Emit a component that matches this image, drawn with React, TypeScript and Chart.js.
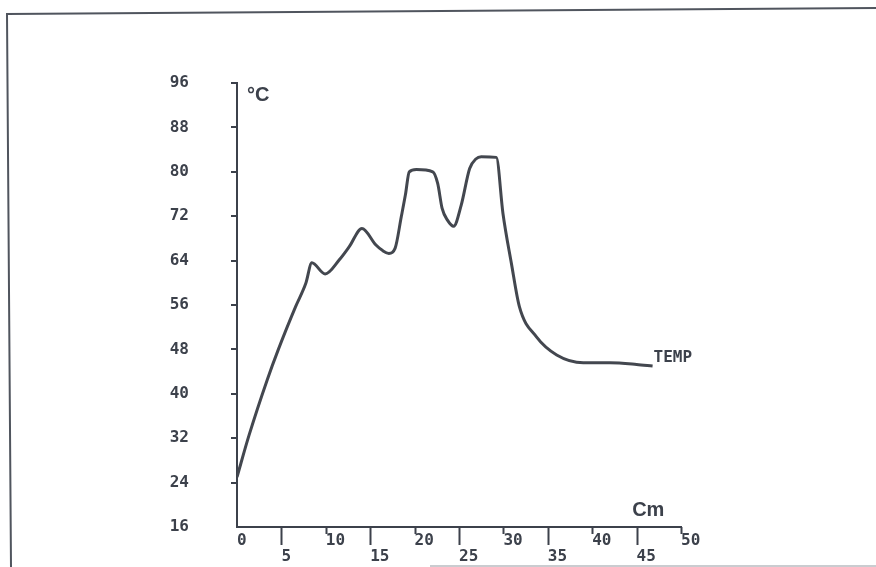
import React, { useEffect, useRef } from "react";
import { Chart, registerables } from "chart.js";

Chart.register(...registerables);

// Position along the furnace (cm)
const positionsCm = [
  0, 1.35, 3.4, 4.66, 6.6, 7.75, 8.43, 9.93, 11.5, 12.64, 14.07, 15.65, 16.4, 17.1,
  17.8, 18.5, 18.96, 19.4, 20.2, 22.05, 22.6, 23.1, 23.7, 24.4, 25.25, 26.2, 26.9,
  27.5, 29.2, 29.95, 30.9, 31.8, 33.7, 36.0, 39.0, 42.0, 45.0, 46.8,
];
// Temperature (°C)
const tempC = [
  25, 32.5, 42.5, 48, 55.7, 59.9, 63.6, 61.6, 64.1, 66.5, 69.8, 66.8, 65.8, 65.3,
  66.2, 71.9, 75.8, 80.0, 80.4, 80.0, 77.9, 73.4, 71.3, 70.2, 74.0, 80.6, 82.3,
  82.7, 82.6, 72.5, 63.5, 55.7, 50.3, 47.0, 45.6, 45.6, 45.3, 45.0,
];
const yTickValues = [16, 24, 32, 40, 48, 56, 64, 72, 80, 88, 96];
const xTickValues = [0, 5, 10, 15, 20, 25, 30, 35, 40, 45, 50];
const seriesLabel = "TEMP";
const yUnit = "°C";
const xUnit = "Cm";

const INK = "#3c414b";
const LINE = "#43474f";
const MONO = '"DejaVu Sans Mono", monospace';

const decor = {
  id: "decor",
  afterDraw(chart: any) {
    const ctx = chart.ctx;
    const xs = chart.scales.x;
    const ys = chart.scales.y;
    const axisY = ys.getPixelForValue(16);
    const axisX = xs.getPixelForValue(0);
    ctx.save();
    // page frame
    ctx.strokeStyle = "#50555e";
    ctx.lineWidth = 2;
    ctx.beginPath();
    ctx.moveTo(11, 567);
    ctx.lineTo(7, 14);
    ctx.lineTo(876, 8);
    ctx.stroke();
    ctx.strokeStyle = "#b8bbc0";
    ctx.lineWidth = 1.5;
    ctx.beginPath();
    ctx.moveTo(430, 566);
    ctx.lineTo(876, 566);
    ctx.stroke();
    // x tick marks below the axis
    ctx.strokeStyle = INK;
    ctx.lineWidth = 2;
    xTickValues.forEach((v) => {
      if (v === 0) return;
      const px = Math.round(xs.getPixelForValue(v)) + 0.5;
      const len = v % 10 === 5 ? 18 : 7;
      ctx.beginPath();
      ctx.moveTo(px, axisY);
      ctx.lineTo(px, axisY + len);
      ctx.stroke();
    });
    // y tick marks left of the axis
    yTickValues.forEach((v) => {
      if (v === 16) return;
      const py = Math.round(ys.getPixelForValue(v));
      ctx.beginPath();
      ctx.moveTo(axisX - 6, py);
      ctx.lineTo(axisX, py);
      ctx.stroke();
    });
    // unit labels
    ctx.fillStyle = INK;
    ctx.font = 'bold 20px "Liberation Sans", Arial, sans-serif';
    ctx.textAlign = "left";
    ctx.textBaseline = "alphabetic";
    ctx.fillText(yUnit, xs.left + 10, ys.top + 18);
    ctx.fillText(xUnit, xs.getPixelForValue(44.5), axisY - 11);
    // series label at the end of the line
    const lastX = xs.getPixelForValue(positionsCm[positionsCm.length - 1]);
    const lastY = ys.getPixelForValue(tempC[tempC.length - 1]);
    ctx.font = `bold 16px ${MONO}`;
    ctx.textBaseline = "middle";
    ctx.fillText(seriesLabel, lastX + 1, lastY - 8);
    ctx.restore();
  },
};

export default function App() {
  const ref = useRef<HTMLCanvasElement | null>(null);
  useEffect(() => {
    if (!ref.current) return;
    const chart = new Chart(ref.current, {
      type: "line",
      data: {
        datasets: [
          {
            label: seriesLabel,
            data: positionsCm.map((x, i) => ({ x, y: tempC[i] })),
            borderColor: LINE,
            borderWidth: 3,
            pointRadius: 0,
            cubicInterpolationMode: "monotone",
            fill: false,
          },
        ],
      },
      options: {
        animation: false,
        responsive: false,
        devicePixelRatio: 1,
        layout: { padding: { left: 0, top: 83, right: 195, bottom: 0 } },
        plugins: { legend: { display: false }, tooltip: { enabled: false } },
        scales: {
          x: {
            type: "linear",
            min: 0,
            max: 50,
            afterBuildTicks: (s: any) => {
              s.ticks = xTickValues.map((value) => ({ value }));
            },
            afterFit: (s: any) => {
              s.height = 40;
            },
            grid: { display: true, drawOnChartArea: false, drawTicks: false },
            border: { display: true, color: INK, width: 2 },
            ticks: {
              align: "start",
              padding: 6,
              maxRotation: 0,
              autoSkip: false,
              color: INK,
              font: { family: MONO, size: 16, weight: "bold", lineHeight: 1.0 },
              callback: (v: any) => {
                const n = Number(v);
                return n % 10 === 0 ? String(n) : ["", String(n)];
              },
            },
          },
          y: {
            type: "linear",
            min: 16,
            max: 96,
            afterBuildTicks: (s: any) => {
              s.ticks = yTickValues.map((value) => ({ value }));
            },
            afterFit: (s: any) => {
              s.width = 237;
            },
            grid: {
              display: true,
              drawOnChartArea: false,
              drawTicks: true,
              tickLength: 48,
              tickWidth: 0,
              tickColor: "rgba(0,0,0,0)",
            },
            border: { display: true, color: INK, width: 2 },
            ticks: {
              padding: 0,
              autoSkip: false,
              color: INK,
              font: { family: MONO, size: 16, weight: "bold" },
              callback: (v: any) => String(v),
            },
          },
        },
      },
      plugins: [decor],
    });
    return () => chart.destroy();
  }, []);
  return (
    <div style={{ position: "fixed", left: 0, top: 0, width: 876, height: 567, background: "#fff" }}>
      <canvas ref={ref} width={876} height={567} style={{ width: 876, height: 567, display: "block" }} />
    </div>
  );
}
